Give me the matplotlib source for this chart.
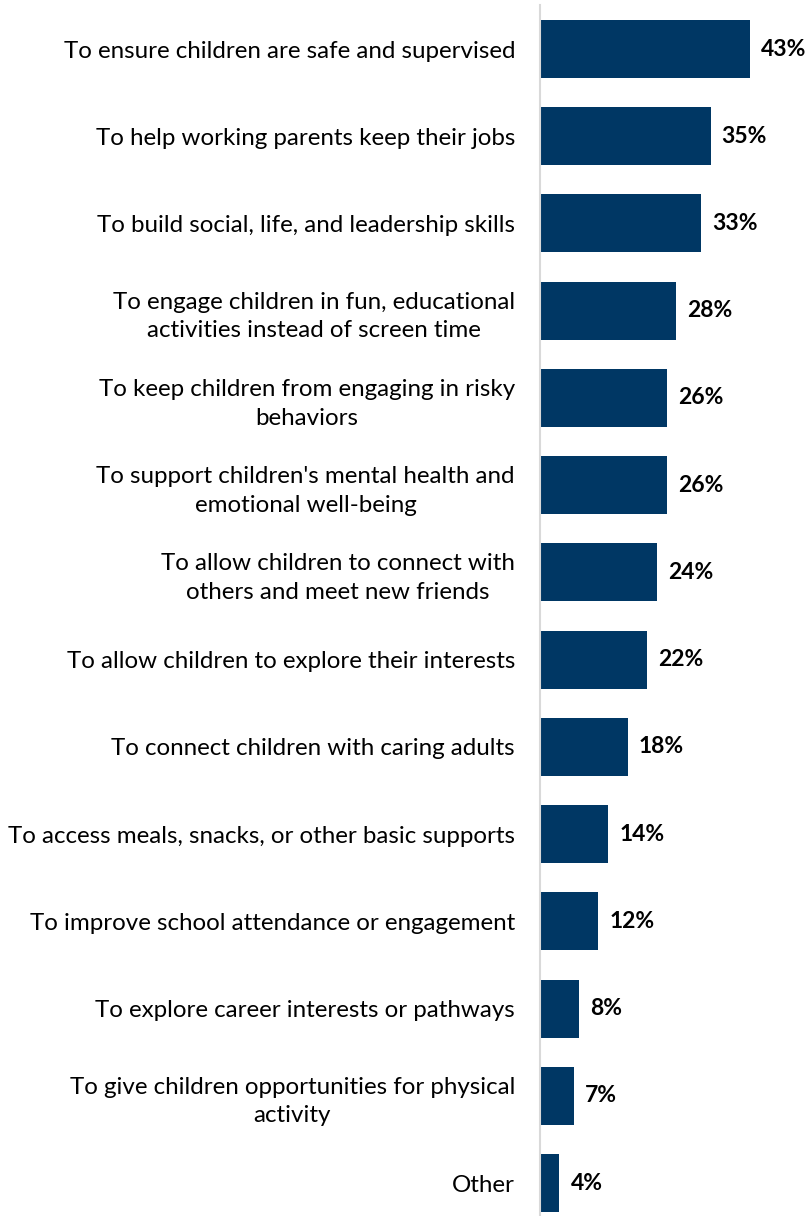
import matplotlib
matplotlib.use("Agg")
import matplotlib.pyplot as plt

plt.rcParams['font.family'] = ['Lato', 'DejaVu Sans']

# reasons for afterschool, share of respondents
reasons = [
    "To ensure children are safe and supervised",
    "To help working parents keep their jobs",
    "To build social, life, and leadership skills",
    "To engage children in fun, educational\nactivities instead of screen time",
    "To keep children from engaging in risky\nbehaviors",
    "To support children's mental health and\nemotional well-being",
    "To allow children to connect with\nothers and meet new friends",
    "To allow children to explore their interests",
    "To connect children with caring adults",
    "To access meals, snacks, or other basic supports",
    "To improve school attendance or engagement",
    "To explore career interests or pathways",
    "To give children opportunities for physical\nactivity",
    "Other",
]
pct = [43, 35, 33, 28, 26, 26, 24, 22, 18, 14, 12, 8, 7, 4]

bar_color = "#003764"

fig = plt.figure(figsize=(8.08, 12.16), dpi=100)
ax = fig.add_axes([540 / 808, 0, 1 - 540 / 808, 1 - 5.4 / 1216])

ypos = list(range(len(pct)))
ax.barh(ypos, pct, height=0.665, color=bar_color)

for y, v in zip(ypos, pct):
    ax.annotate(f"{v}%", (v, y), xytext=(8, 0), textcoords="offset points",
                va="center", ha="left", fontsize=16.5, fontweight="bold", color="#000000")

ax.set_xlim(0, 55)
ax.set_ylim(13.378, -0.5)
ax.set_yticks(ypos)
ax.set_yticklabels(reasons, fontsize=17.4, multialignment="center", linespacing=1.45)
ax.tick_params(axis="y", length=0, pad=18)
ax.set_xticks([])

for s in ["top", "right", "bottom"]:
    ax.spines[s].set_visible(False)
ax.spines["left"].set_color("#d9d9d9")
ax.spines["left"].set_linewidth(1.5)

fig.savefig("out.png", dpi=100)
